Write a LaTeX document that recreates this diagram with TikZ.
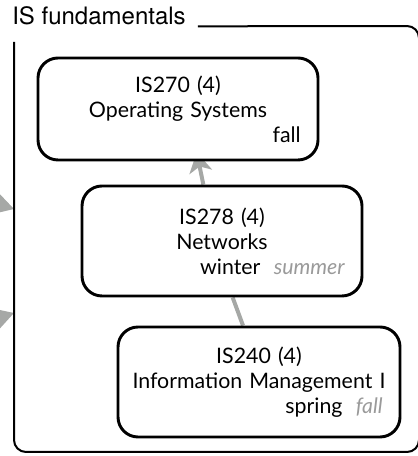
\documentclass[tikz,border=0pt]{standalone}
\usepackage{fontspec}
\setmainfont{Lato}
\newfontfamily\titlefont{TeX Gyre Heros}
\usepackage{tikz}
\usetikzlibrary{arrows.meta}
\usetikzlibrary{backgrounds}
\definecolor{linkgrey}{HTML}{A6A8A6}
\definecolor{altgrey}{HTML}{9A9A9A}
\tikzset{>=latex}
\tikzstyle{course} = [rectangle, draw=black, line width=2.2pt, rounded corners=15pt, fill=white, text width=204pt, inner xsep=3pt, align=center, font=\fontsize{16}{18.75}\selectfont]
\tikzstyle{prereq} = [-{Stealth[length=15pt, width=17pt, inset=4pt]}, draw=linkgrey, fill=linkgrey, line width=3pt]
\tikzstyle{link} = [-, draw=linkgrey, line width=3pt]
\newcommand{\term}[1]{\makebox[\hsize][r]{#1\hspace{10pt}}}
\newcommand{\altterm}[1]{\hspace{10pt}{\color{altgrey}\itshape #1}}

\begin{document}
\begin{tikzpicture}[x=0.75pt, y=0.75pt]
\useasboundingbox (0,0) rectangle (417,456);
\node [course, minimum height=76.5pt] (IS270) at (178, 347) {IS270 (4)\\Operating Systems\\\term{fall}};
\node [course, minimum height=82.5pt] (IS278) at (222, 215) {IS278 (4)\\Networks\\\term{winter\altterm{summer}}};
\node [course, minimum height=82.5pt, text width=205.5pt] (IS240) at (259, 74) {IS240 (4)\\Information Management I\\\term{spring\altterm{fall}}};
% group frame
\node [anchor=base west, inner sep=0pt, font=\titlefont\fontsize{18}{21}\selectfont] (title) at (12, 431) {IS fundamentals};
\draw [line width=1.5pt, rounded corners=9pt] ([xshift=9pt, yshift=-1pt]title.base east) -- (419,430) -- (419,4) -- (14,4) -- (14,414);
% links from outside the group
\coordinate (ext1) at (-70, 272);
\coordinate (ext2) at (-70, 116);
\coordinate (in1) at (14, 247);
\coordinate (in2) at (14, 143);
\begin{scope}[on background layer]
\draw [prereq] (ext1) to (in1);
\draw [prereq] (ext2) to (in2);
\draw [prereq] ([xshift=-14pt]IS278.north) to ([xshift=14pt, yshift=7pt]IS270.south);
\draw [link] ([xshift=-12pt]IS240.north) to ([xshift=8pt]IS278.south);
\end{scope}
\end{tikzpicture}
\end{document}
